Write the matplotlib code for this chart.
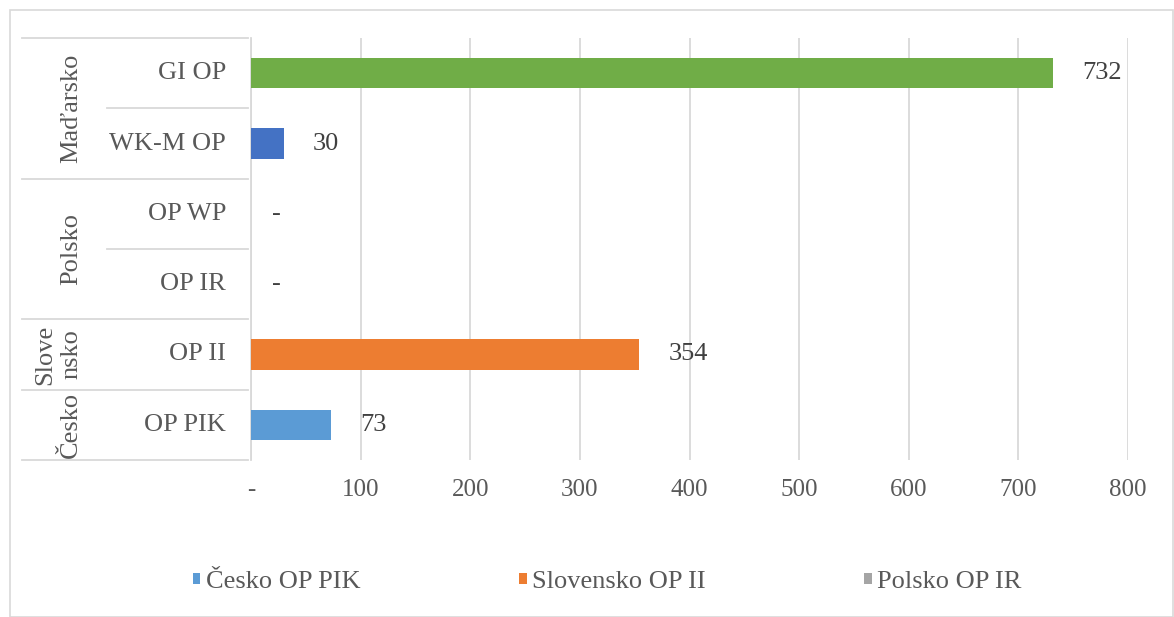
import matplotlib
matplotlib.use("Agg")
import matplotlib.pyplot as plt
from matplotlib.patches import Patch, Rectangle
from matplotlib.transforms import blended_transform_factory

plt.rcParams['font.family'] = ['Liberation Serif', 'DejaVu Serif']

# data (bottom -> top)
groups = ["Česko", "Slove\nnsko", "Polsko", "Maďarsko"]
group_sizes = [1, 1, 2, 2]
programs = ["OP PIK", "OP II", "OP IR", "OP WP", "WK-M OP", "GI OP"]
values = [73, 354, 0, 0, 30, 732]
bar_colors = ["#5B9BD5", "#ED7D31", "#A5A5A5", "#FFC000", "#4472C4", "#70AD47"]
xticks = [0, 100, 200, 300, 400, 500, 600, 700, 800]
xtick_labels = ["-", "100", "200", "300", "400", "500", "600", "700", "800"]
legend_labels = ["Česko OP PIK", "Slovensko OP II", "Polsko OP IR"]
legend_colors = ["#5B9BD5", "#ED7D31", "#A5A5A5"]

W, H = 1174, 617
fig = plt.figure(figsize=(W / 100, H / 100), dpi=100)
fig.patch.set_facecolor('white')
fig.add_artist(Rectangle((10 / W, 0), 1 - 11 / W, 1 - 10 / H, transform=fig.transFigure,
                         fill=False, edgecolor='#D9D9D9', linewidth=1.2))

ax = fig.add_axes([251 / W, 1 - 460 / H, (1128 - 251) / W, (460 - 38) / H])
ypos = list(range(len(programs)))
ax.barh(ypos, values, height=0.43, color=bar_colors, zorder=3)

ax.set_xlim(0, 800)
ax.set_ylim(-0.5, len(programs) - 0.5)
ax.set_xticks(xticks)
ax.set_xticklabels(xtick_labels, fontsize=18, color='#595959')
ax.tick_params(axis='x', length=0, pad=14)
ax.get_xticklabels()[0].set_x(-8)
ax.set_yticks([])
ax.grid(axis='x', color='#D9D9D9', linewidth=1.3, zorder=0)
for s in ['top', 'right', 'bottom']:
    ax.spines[s].set_visible(False)
ax.spines['left'].set_color('#D9D9D9')
ax.spines['left'].set_linewidth(1.3)

# data labels (zero shown as "-")
for y, v in zip(ypos, values):
    txt = "-" if v == 0 else f"{v}"
    off = 15 if v == 0 else 21
    ax.annotate(txt, (v, y), xytext=(off, 0), textcoords='offset points',
                ha='left', va='center', fontsize=19, color='#404040')

# category axis (two levels)
tr = blended_transform_factory(fig.transFigure, ax.transData)
lc = '#D9D9D9'
for y, name in zip(ypos, programs):
    ax.text(226 / W, y, name, transform=tr, ha='right', va='center',
            fontsize=19, color='#595959')
start = -0.5
ax.plot([22 / W, 248 / W], [start, start], transform=tr, color=lc, lw=1.3, clip_on=False)
for g, n in zip(groups, group_sizes):
    end = start + n
    for k in range(1, n):
        ax.plot([107 / W, 248 / W], [start + k, start + k], transform=tr,
                color=lc, lw=1.3, clip_on=False)
    ax.plot([22 / W, 248 / W], [end, end], transform=tr, color=lc, lw=1.3, clip_on=False)
    ax.text(82 / W, (start + end) / 2, g, transform=tr, rotation=90, ha='right',
            va='center', fontsize=19, color='#595959', linespacing=1.2,
            multialignment='center')
    start = end

handles = [Patch(facecolor=c, edgecolor='none') for c in legend_colors]
fig.legend(handles, legend_labels, loc='center', bbox_to_anchor=(607 / W, 1 - 582 / H),
           ncol=3, frameon=False, fontsize=19, labelcolor='#595959',
           handlelength=0.3, handleheight=0.3, handletextpad=0.2, columnspacing=6.0)

fig.savefig("out.png", dpi=100, facecolor='white')
